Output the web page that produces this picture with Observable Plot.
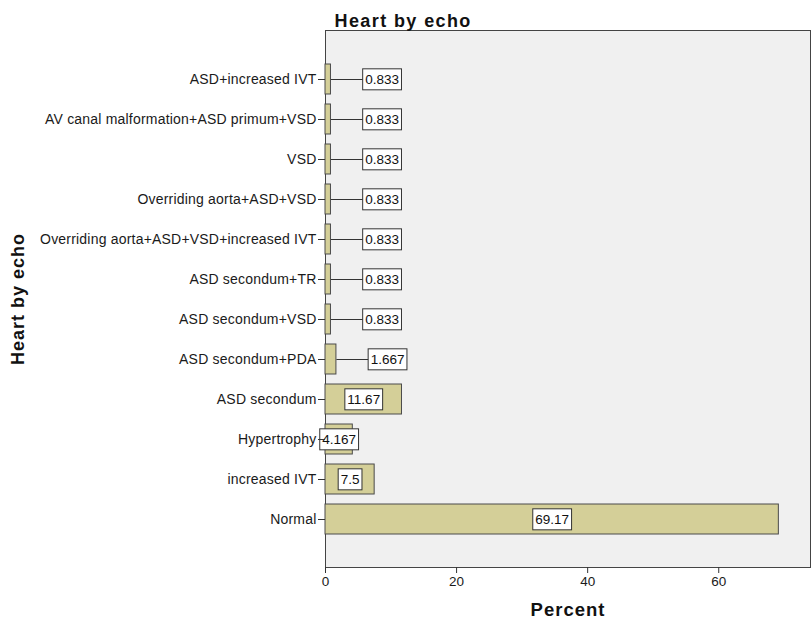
<!DOCTYPE html>
<html>
<head>
<meta charset="utf-8">
<script src="https://cdn.jsdelivr.net/npm/d3@7"></script>
<script src="https://cdn.jsdelivr.net/npm/@observablehq/plot@0.6"></script>
<style>
  html, body { margin: 0; padding: 0; background: #fff; }
  #chart { width: 812px; height: 632px; }
</style>
</head>
<body>
<div id="chart"></div>
<script>
const categories = [
  "ASD+increased IVT",
  "AV canal malformation+ASD primum+VSD",
  "VSD",
  "Overriding aorta+ASD+VSD",
  "Overriding aorta+ASD+VSD+increased IVT",
  "ASD secondum+TR",
  "ASD secondum+VSD",
  "ASD secondum+PDA",
  "ASD secondum",
  "Hypertrophy",
  "increased IVT",
  "Normal"
];
const percents = [0.833, 0.833, 0.833, 0.833, 0.833, 0.833, 0.833, 1.667, 11.67, 4.167, 7.5, 69.17];
const xTicks = [0, 20, 40, 60];
const titleText = "Heart by echo";
const xLabel = "Percent";
const yLabel = "Heart by echo";

const data = categories.map((c, i) => ({cat: c, pct: percents[i]}));
const small = data.filter(d => d.pct < 3);
const labelX = d => d.pct < 3 ? d.pct + 7.8 : d.pct / 2;

const chart = Plot.plot({
  width: 812,
  height: 632,
  marginLeft: 325,
  marginRight: 2,
  marginTop: 30,
  marginBottom: 65,
  style: {fontFamily: "'Liberation Sans', Arial, sans-serif", fontSize: "13px", color: "#1a1a1a", background: "#fff"},
  x: {domain: [0, 74], label: null},
  y: {domain: categories, label: null, padding: 0.25, insetTop: 23, insetBottom: 23},
  marks: [
    Plot.frame({fill: "#f0f0f0", stroke: "#444", strokeWidth: 1}),
    Plot.barX(data, {x: "pct", y: "cat", fill: "#d4cf98", stroke: "#4a4a4a", strokeWidth: 1}),
    Plot.link(small, {x1: "pct", x2: labelX, y1: "cat", y2: "cat", stroke: "#333", strokeWidth: 1}),
    Plot.text(data, {x: labelX, y: "cat", text: d => String(d.pct), fill: "#111", fontSize: 13.5}),
    Plot.axisY({tickSize: 7, tickPadding: 2, fontSize: 14, stroke: "#333", label: null}),
    Plot.axisX({ticks: xTicks, tickSize: 6, tickPadding: 3, fontSize: 13.5, stroke: "#333", label: null}),
    Plot.text([titleText], {frameAnchor: "top-left", dx: 9, dy: -16, textAnchor: "start", fontWeight: "bold", fontSize: 18, fill: "#111"}),
    Plot.text([yLabel], {frameAnchor: "left", dx: -307, rotate: -90, textAnchor: "middle", fontWeight: "bold", fontSize: 18, fill: "#111"}),
    Plot.text([xLabel], {frameAnchor: "bottom", dy: 48, fontWeight: "bold", fontSize: 18.5, fill: "#111"})
  ]
});
document.getElementById("chart").appendChild(chart);

const textGroups = chart.querySelectorAll('g[aria-label="text"]');
// letter spacing to match the reference's wider rendering
if (textGroups[1]) textGroups[1].setAttribute("letter-spacing", "1.4");
if (textGroups[2]) textGroups[2].setAttribute("letter-spacing", "1");
if (textGroups[3]) textGroups[3].setAttribute("letter-spacing", "1");
const yTickLabels = chart.querySelector('g[aria-label="y-axis tick label"]');
if (yTickLabels) yTickLabels.setAttribute("letter-spacing", "0.2");

// white boxes behind value labels
const valueGroup = textGroups[0];
valueGroup.querySelectorAll("text").forEach(t => {
  const b = t.getBBox();
  const r = document.createElementNS("http://www.w3.org/2000/svg", "rect");
  r.setAttribute("x", b.x - 2.5);
  r.setAttribute("y", b.y - 3);
  r.setAttribute("width", b.width + 5);
  r.setAttribute("height", b.height + 6);
  r.setAttribute("fill", "#fff");
  r.setAttribute("stroke", "#333");
  r.setAttribute("stroke-width", "1");
  if (t.getAttribute("transform")) r.setAttribute("transform", t.getAttribute("transform"));
  t.parentNode.insertBefore(r, t);
});
</script>
</body>
</html>
